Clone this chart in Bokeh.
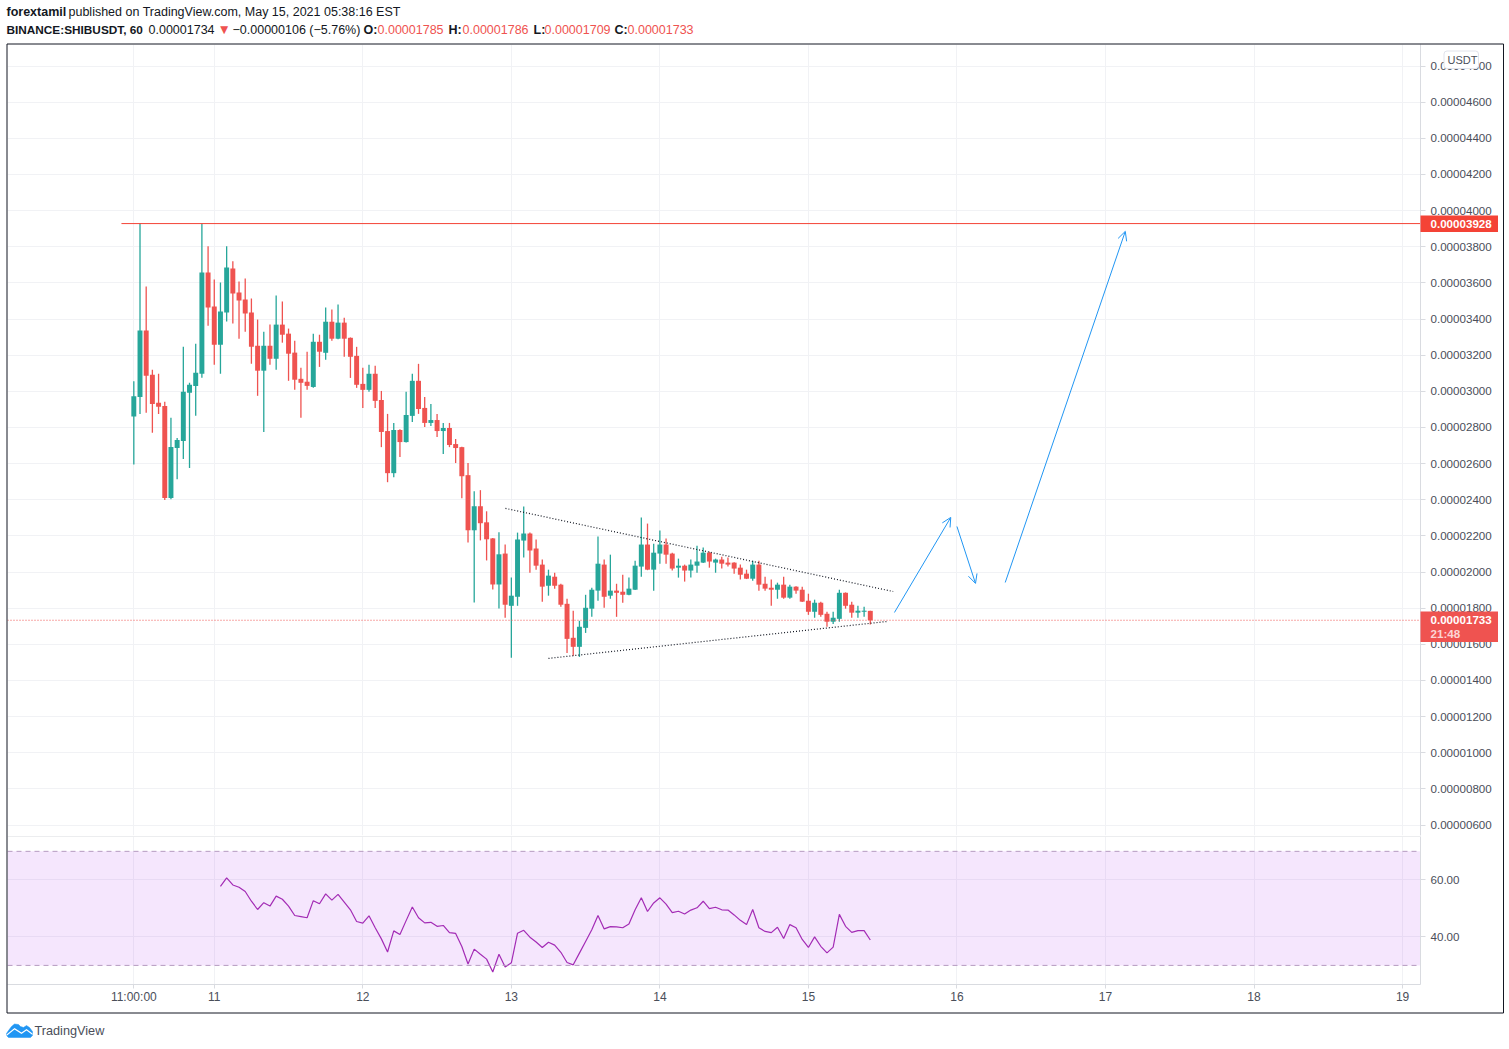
from bokeh.plotting import figure
from bokeh.layouts import column
from bokeh.models import ColumnDataSource, FixedTicker, Label, BoxAnnotation, Span, Arrow, OpenHead
from bokeh.embed import file_html
from bokeh.resources import INLINE

# prices in units of 1e-8 USDT
opens = [2861,2969,3336,3091,2936,2919,2409,2686,2725,2992,3030,3097,3658,3469,3258,3436,3680,3547,3508,3436,
         3252,3114,3252,3180,3369,3319,3214,3069,3053,3024,3274,3213,3385,3291,3380,3296,3196,3041,3008,3097,
         2952,2780,2547,2786,2719,2864,3058,2908,2825,2841,2780,2797,2708,2691,2536,2231,2364,2275,2186,1931,
         2102,1813,1863,2174,2213,2130,2041,1924,1974,1930,1824,1636,1586,1691,1797,1897,2041,1869,1897,1891,
         1874,1902,2030,2152,2013,2102,2152,2102,2024,2035,2008,2035,2052,2107,2052,2069,2052,2052,2024,1991,
         1963,2041,1935,1913,1902,1930,1858,1919,1902,1841,1780,1830,1769,1725,1741,1885,1819,1775,1780,1785]
highs = [3055,3928,3580,3119,3097,2942,2853,2742,3247,3047,3263,3928,3802,3619,3602,3802,3719,3608,3624,3513,
         3397,3330,3369,3530,3497,3347,3280,3130,3219,3319,3313,3463,3452,3480,3407,3298,3246,3130,3147,3141,
         3002,2875,2825,2790,2997,3097,3152,2969,2930,2875,2825,2825,2736,2693,2603,2447,2453,2336,2188,2220,
         2152,1969,2218,2363,2218,2180,2069,2013,1996,1935,1852,1786,1730,1874,1913,2196,2069,2096,1935,1985,
         1969,2063,2302,2268,2157,2230,2185,2107,2074,2041,2069,2146,2135,2113,2074,2085,2080,2054,2041,2013,
         2063,2063,1974,1958,1941,1974,1930,1921,1919,1880,1847,1836,1780,1780,1902,1887,1836,1813,1808,1786]
lows = [2595,2875,2881,2770,2875,2398,2403,2514,2625,2575,2864,3075,3363,3147,3097,3386,3375,3291,3330,3152,
        2975,2775,3147,3119,3269,3058,3008,2853,3008,3019,3135,3174,3280,3288,3191,3074,3019,2908,2997,2908,
        2691,2497,2525,2636,2716,2830,2875,2802,2808,2747,2653,2691,2603,2408,2164,1831,2175,2064,1903,1798,
        1747,1525,1813,2080,1996,2013,1836,1869,1908,1808,1552,1536,1530,1663,1752,1841,1802,1852,1752,1830,
        1872,1900,1974,2010,1897,2046,2046,2008,1969,1947,1969,1996,2050,2024,1996,2019,2030,1991,1958,1961,
        1952,1897,1897,1813,1852,1852,1852,1880,1834,1763,1747,1752,1697,1713,1725,1797,1747,1747,1752,1709]
closes = [2972,3336,3086,2930,2914,2409,2692,2731,2997,3036,3103,3658,3463,3258,3441,3685,3541,3502,3430,3247,
          3114,3252,3180,3369,3313,3208,3064,3047,3030,3274,3219,3385,3291,3380,3291,3191,3036,3008,3097,2947,
          2775,2547,2786,2719,2869,3058,2902,2825,2841,2780,2797,2703,2686,2530,2231,2364,2270,2181,1931,2098,
          1819,1869,2180,2213,2119,2035,1919,1980,1924,1819,1630,1586,1697,1802,1902,2046,1863,1897,1885,1874,
          1908,2035,2152,2013,2107,2152,2096,2019,2035,2008,2041,2058,2107,2058,2069,2046,2041,2019,1985,1963,
          2041,1930,1908,1902,1930,1858,1919,1897,1836,1780,1830,1763,1725,1747,1885,1813,1775,1786,1786,1733]

rsi_start = 14
rsi_values = [57.7,60.7,58.2,57.4,55.9,52.5,49.6,52.0,50.8,54.3,53.2,50.8,47.5,47.1,46.7,52.7,51.6,55.1,52.9,54.9,
              52.2,49.5,45.4,44.8,47.4,43.2,39.3,34.7,42.1,40.8,45.7,50.5,46.7,44.9,45.1,43.7,44.0,41.5,41.2,36.6,
              30.5,35.7,33.9,32.2,27.7,33.9,29.4,30.9,41.3,42.3,39.9,38.2,36.3,38.1,37.1,34.6,31.0,30.2,34.3,38.4,
              42.5,47.5,42.8,43.6,43.5,43.2,44.5,49.5,53.7,48.9,51.9,53.7,51.5,48.5,49.0,48.0,49.4,50.2,52.5,49.9,
              50.4,49.5,49.4,47.7,45.8,44.3,49.6,43.2,41.9,41.5,43.4,39.4,44.3,43.2,39.1,36.3,40.0,36.7,34.4,36.4,
              47.9,43.7,41.6,42.2,42.2,38.9]

price_ticks = [600,800,1000,1200,1400,1600,1800,2000,2200,2400,2600,2800,3000,3200,3400,3600,3800,4000,4200,4400,4600,4800]
price_labels = ["0.00000600","0.00000800","0.00001000","0.00001200","0.00001400","0.00001600","0.00001800",
                "0.00002000","0.00002200","0.00002400","0.00002600","0.00002800","0.00003000","0.00003200",
                "0.00003400","0.00003600","0.00003800","0.00004000","0.00004200","0.00004400","0.00004600","0.00004800"]
time_ticks = [0,13,37,61,85,109,133,157,181,205]
time_labels = ["11:00:00","11","12","13","14","15","16","17","18","19"]
rsi_ticks = [40,60]
rsi_labels = ["40.00","60.00"]

resistance = 3928
last_price = 1733
res_x = [-2, 207.9]
upper_x = [60.05, 122.7]
upper_y = [2352, 1892]
lower_x = [67, 121.6]
lower_y = [1522, 1726]
arrow_x0 = [122.9, 133, 140.8]
arrow_y0 = [1776, 2252, 1942]
arrow_x1 = [132, 136, 160.2]
arrow_y1 = [2302, 1937, 3885]

GREEN, RED = "#26a69a", "#ef5350"
GRID = "#f1f2f5"
AX = "#d9dbe0"
TXT = "#131722"
TICK = "#4a4e59"
FONT = "Liberation Sans"
XR = (-20.41, 207.9)

p = figure(width=1504, height=836, frame_width=1413, frame_height=791, min_border_left=7, min_border_top=44,
           min_border_bottom=1, min_border_right=84, x_range=XR, y_range=(542, 4919),
           x_axis_location=None, y_axis_location="right", toolbar_location=None, output_backend="svg")
r = figure(width=1504, height=205, frame_width=1413, frame_height=148, min_border_left=7, min_border_top=0,
           min_border_bottom=57, min_border_right=84, x_range=p.x_range, y_range=(23.3, 75.2),
           y_axis_location="right", toolbar_location=None, output_backend="svg")
for f in (p, r):
    f.outline_line_color = None
    f.background_fill_color = "white"
    f.border_fill_color = None
    f.xgrid.ticker = FixedTicker(ticks=time_ticks)
    f.xgrid.grid_line_color = GRID
    f.ygrid.grid_line_color = GRID
    ya = f.yaxis[0]
    ya.axis_line_color = AX
    ya.major_tick_line_color = AX
    ya.major_tick_out = 5
    ya.major_tick_in = 0
    ya.minor_tick_line_color = None
    ya.major_label_text_color = TICK
    ya.major_label_text_font = FONT
    ya.major_label_text_font_size = "11.6px"
    ya.major_label_standoff = 5

p.yaxis[0].ticker = FixedTicker(ticks=price_ticks)
p.yaxis[0].major_label_overrides = dict(zip(price_ticks, price_labels))
p.ygrid.ticker = FixedTicker(ticks=price_ticks)

r.yaxis[0].ticker = FixedTicker(ticks=rsi_ticks)
r.yaxis[0].major_label_overrides = dict(zip(rsi_ticks, rsi_labels))
r.ygrid.ticker = FixedTicker(ticks=rsi_ticks)
xa = r.xaxis[0]
xa.ticker = FixedTicker(ticks=time_ticks)
xa.major_label_overrides = dict(zip(time_ticks, time_labels))
xa.axis_line_color = AX
xa.major_tick_line_color = AX
xa.major_tick_out = 4
xa.major_tick_in = 0
xa.minor_tick_line_color = None
xa.major_label_text_color = TICK
xa.major_label_text_font = FONT
xa.major_label_text_font_size = "12px"
xa.major_label_standoff = 1

# candles
idx = list(range(len(opens)))
up = [i for i in idx if closes[i] >= opens[i]]
dn = [i for i in idx if closes[i] < opens[i]]
for sel, col in ((up, GREEN), (dn, RED)):
    src = ColumnDataSource(dict(
        x=sel,
        high=[highs[i] for i in sel],
        low=[lows[i] for i in sel],
        top=[max(opens[i], closes[i]) for i in sel],
        bottom=[min(opens[i], closes[i]) for i in sel]))
    p.segment("x", "high", "x", "low", source=src, line_color=col, line_width=1.3)
    p.vbar("x", 0.8, "top", "bottom", source=src, fill_color=col, line_color=None)

p.line(upper_x, upper_y, line_color=TXT, line_width=1.2, line_dash=[1, 2])
p.line(lower_x, lower_y, line_color=TXT, line_width=1.2, line_dash=[1, 2])
p.line(res_x, [resistance, resistance], line_color="#f44336", line_width=1)
p.add_layout(Span(location=last_price, dimension="width", line_color=RED, line_width=1.1, line_dash=[1, 2]))
for x0, y0, x1, y1 in zip(arrow_x0, arrow_y0, arrow_x1, arrow_y1):
    p.add_layout(Arrow(x_start=x0, y_start=y0, x_end=x1, y_end=y1, line_color="#2196f3", line_width=1,
                       end=OpenHead(size=9, line_color="#2196f3", line_width=1)))

# RSI pane
r.add_layout(BoxAnnotation(bottom=30, top=70, fill_color="#9b05eb", fill_alpha=0.1, line_color=None, level="underlay"))
for lvl in (70, 30):
    r.add_layout(Span(location=lvl, dimension="width", line_color="#b59bc0", line_width=1, line_dash=[5, 4]))
r.line(list(range(rsi_start, rsi_start + len(rsi_values))), rsi_values, line_color="#a32cb5", line_width=1.2)
r.add_layout(Span(location=75.2, dimension="width", line_color=AX, line_width=1))

# transparent sheet over the whole page for the chrome: header, frame, price tags, logo
W, H = 1504, 1041
s = figure(width=W, height=H, frame_width=W, frame_height=H, min_border=0, x_range=(0, W), y_range=(H, 0),
           x_axis_location=None, y_axis_location=None,
           toolbar_location=None, output_backend="svg", margin=(-H, 0, 0, 0))
s.grid.visible = False
s.outline_line_color = None
s.background_fill_color = None
s.border_fill_color = None

def txt(x, y, t, color=TXT, bold=False, size="12.5px"):
    s.add_layout(Label(x=x, y=y, text=t, text_color=color, text_font=FONT, text_font_size=size,
                       text_baseline="middle", text_align="left",
                       text_font_style="bold" if bold else "normal"))

# frame
s.quad(left=[6.5], right=[1503], top=[43.5], bottom=[1012.5], fill_color=None, line_color=TXT, line_width=1)

# header
txt(6, 11.5, "forextamil", bold=True)
txt(68, 11.5, "published on TradingView.com, May 15, 2021 05:38:16 EST")
txt(6, 29, "BINANCE:SHIBUSDT, 60", bold=True, size="11.8px")
txt(148, 29, "0.00001734")
txt(217, 29, "\u25bc", color=RED, size="13.5px")
txt(232, 29, "\u22120.00000106 (\u22125.76%)")
for xa_, t, xv, v in ((363, "O:", 377, "0.00001785"), (448, "H:", 462, "0.00001786"),
                      (533, "L:", 544, "0.00001709"), (614, "C:", 627, "0.00001733")):
    txt(xa_, 29, t, bold=True)
    txt(xv, 29, v, color=RED)

# price tags
s.quad(left=[1420], right=[1497.5], top=[215], bottom=[231.5], fill_color="#f44336", line_color=None)
txt(1430, 223.5, "0.00003928", color="white", bold=True, size="11.6px")
s.quad(left=[1420], right=[1497.5], top=[611], bottom=[641.5], fill_color=RED, line_color=None)
txt(1430, 619.5, "0.00001733", color="white", bold=True, size="11.6px")
txt(1430, 633, "21:48", color="#fcd5d4", bold=True, size="11.6px")
s.quad(left=[1443.5], right=[1478], top=[50.5], bottom=[68], fill_color="white", line_color="#e0e3eb", line_width=1,
       border_radius=3)
txt(1447, 59, "USDT", color=TICK, size="11px")

# logo
s.patch([6, 8, 11, 14, 18, 20, 23, 26, 29, 32, 32, 30, 8, 6],
        [1033, 1030, 1026, 1023.5, 1024, 1026, 1027, 1025, 1027, 1031, 1035, 1037, 1037, 1035],
        fill_color="#2196f3", line_color="#2196f3", line_width=0.5)
s.patch([6, 14, 21, 26, 32, 32, 26, 21, 14, 6],
        [1034, 1027.5, 1032, 1028.5, 1033, 1034.5, 1030, 1033.5, 1029, 1035.5],
        fill_color="white", line_color=None)
txt(34, 1030.5, "TradingView", color="#4a4e59", size="12.7px")

layout = column(column(p, r, spacing=0), s, spacing=0, margin=(0, 0, 0, 0))
open("out.html", "w").write(file_html(layout, INLINE))
